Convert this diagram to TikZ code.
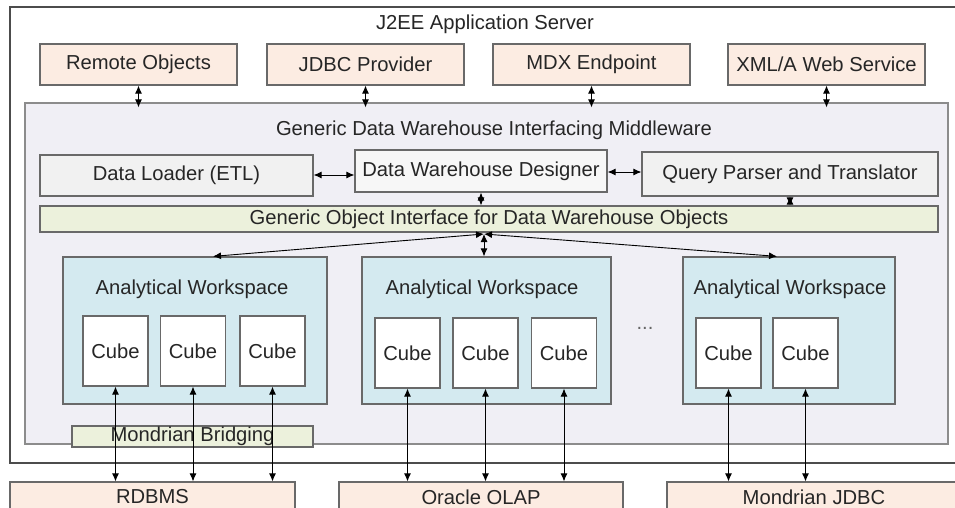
\documentclass[tikz,border=0pt]{standalone}
\usepackage{fontspec}
\setmainfont{Liberation Sans}
\usepackage{tikz}
\usetikzlibrary{positioning}
\usetikzlibrary{arrows.meta,shapes}
\usetikzlibrary{calc}
\definecolor{peach}{RGB}{252,236,226}
\definecolor{lavender}{RGB}{240,239,245}
\definecolor{lightgray}{RGB}{241,241,241}
\definecolor{palegreen}{RGB}{236,241,220}
\definecolor{paleblue}{RGB}{212,234,240}
\definecolor{edge}{RGB}{105,105,105}
\tikzstyle{box}=[rectangle,draw=edge,line width=1.2pt,inner sep=0pt,text=black!85]
\tikzstyle{extbox}=[box,fill=peach,minimum height=41pt]
\tikzstyle{compbox}=[box,fill=lightgray]
\tikzstyle{barbox}=[box,fill=palegreen]
\tikzstyle{wsbox}=[box,fill=paleblue,minimum height=147pt]
\tikzstyle{cubebox}=[box,fill=white,minimum width=65pt,minimum height=70pt]
\tikzstyle{caption}=[text=black!85,inner sep=0pt]
\tikzstyle{link}=[>={Latex[length=8pt,width=7pt]},<->,line width=0.9pt]

\begin{document}
\begin{tikzpicture}[x=1pt,y=-1pt,every node/.style={font=\fontsize{20.2}{23}\selectfont}]
\useasboundingbox (0,0) rectangle (955,508);
\clip (0,0) rectangle (955,508);

%Server and middleware
\node[box,draw=black!70,fill=white,minimum width=955pt,minimum height=456pt] (server) at (487.5,235) {};
\node[caption] (servertitle) at (485,24) {J2EE Application Server};
\node[box,draw=black!45,fill=lavender,minimum width=923pt,minimum height=341pt] (mid) at (486.5,273.5) {};
\node[caption] (midtitle) at (494,130) {Generic Data Warehouse Interfacing Middleware};

%Endpoints
    \foreach \pos/\name/\label in {{(138.5,64.5)/remote/Remote Objects}, {(365.5,64.5)/jdbc/JDBC Provider}, {(591.5,64.5)/mdx/MDX Endpoint}, {(826.5,64.5)/xmla/{XML/A Web Service}}}
        \node[extbox,minimum width=197pt] (\name) at \pos {\label};
  \foreach \source in {remote, jdbc, mdx, xmla}
          \draw[link] (\source.south) -- ([yshift=-5pt]\source.south |- mid.north);

%Middleware components
\node[compbox,minimum width=273pt,minimum height=41pt] (etl) at (176.5,175.5) {Data Loader (ETL)};
\node[compbox,fill=lightgray!60,minimum width=252pt,minimum height=42pt] (designer) at (481,171) {Data Warehouse Designer};
\node[compbox,minimum width=296pt,minimum height=44pt] (query) at (790,174) {Query Parser and Translator};
\node[barbox,minimum width=898pt,minimum height=26pt] (generic) at (489,219) {Generic Object Interface for Data Warehouse Objects};
\draw[link] (etl.east |- 0,175) -- (designer.west |- 0,175);
\draw[link] (designer.east |- 0,172) -- (query.west |- 0,172);
\draw[link] (designer.south) -- (designer.south |- generic.north);
\draw[link] (query.south) -- (query.south |- generic.north);

%Workspaces
    \foreach \pos/\name/\w in {{(195,330.5)/aw1/264}, {(486.5,330.5)/aw2/249}, {(789,330.5)/aw3/212}}
        \node[wsbox,minimum width=\w pt] (\name) at \pos {};
    \foreach \pos/\name in {{(192,289)/aw1t}, {(482,289)/aw2t}, {(790,289)/aw3t}}
        \node[caption] (\name) at \pos {Analytical Workspace};
\node[caption,text=black!60] (dots) at (645,328) {...};

    \foreach \pos/\name in {{(115.5,351)/c11}, {(193,351)/c12}, {(272.5,351)/c13}, {(407.5,353)/c21}, {(485.5,353)/c22}, {(564,353)/c23}, {(728.5,353)/c31}, {(805.5,353)/c32}}
        \node[cubebox] (\name) at \pos {Cube};

\coordinate (hub) at (484,234);
\draw[link] (hub) -- (aw1.north -| 213,0);
\draw[link] (hub) -- (aw2.north -| hub);
\draw[link] (hub) -- (aw3.north -| 777,0);

%Data sources
\node[barbox,minimum width=241pt,minimum height=21pt] (bridging) at (192.5,436.5) {Mondrian Bridging};
    \foreach \pos/\name/\w/\label in {{(152.5,497)/rdbms/285/RDBMS}, {(481,497)/olap/284/Oracle OLAP}, {(814,497)/mjdbc/294/Mondrian JDBC}}
        \node[extbox,minimum width=\w pt,minimum height=30pt] (\name) at \pos {\label};
  \foreach \source/ \dest in {c11/rdbms, c12/rdbms, c13/rdbms, c21/olap, c22/olap, c23/olap, c31/mjdbc, c32/mjdbc}
          \draw[link] (\source.south) -- (\source.south |- \dest.north);

   \end{tikzpicture}
\end{document}
